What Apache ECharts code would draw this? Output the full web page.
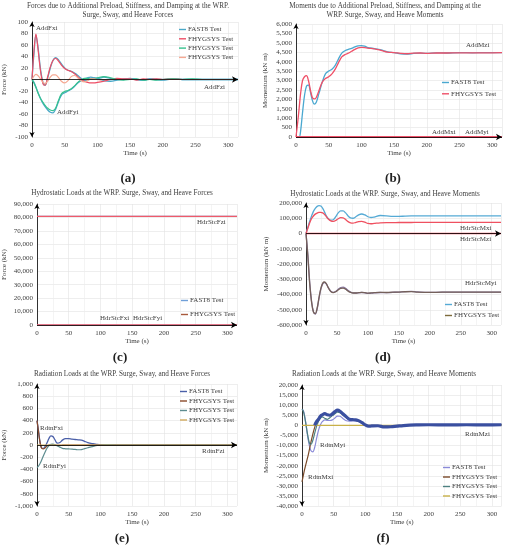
<!DOCTYPE html>
<html><head><meta charset="utf-8">
<script src="https://cdn.jsdelivr.net/npm/echarts@6/dist/echarts.min.js"></script>
<style>html,body{margin:0;padding:0;background:#fff}#c{width:509px;height:550px}</style>
</head><body><div id="c"></div>
<script>
// ---------- data ----------
// (a) Additional forces
const tA = [0,3,6,9,13,17,20,24,28,32,36,40,45,50,55,60,65,70,75,80,85,90,95,100,105,110,120,130,140,150,160,170,180,190,200,215,230,245,260,280,300,315];
const addFxiFast = [0,45,77,58,18,-6,-10,3,20,33,38,35,27,20,16,14,11,7,2,-2,-1,1,3,2,0,-2,-3,-1,1,2,0,-1,1,0,-1,1,0,0,0,0,0,0];
const addFxiFhy  = [0,50,79,55,15,-8,-10,5,22,33,37,33,25,19,16,14,10,5,0,-3,-5,-6,-6,-5,-4,-3,0,2,1,1,-1,1,0,1,0,1,0,0,0,0,0,0];
const addFyiFast = [0,-5,-13,-22,-33,-42,-47,-53,-57,-58,-52,-40,-27,-23,-20,-17,-12,-6,-2,1,3,4,3,2,3,4,2,0,0,1,0,-1,1,0,0,1,0,0,0,0,0,0];
const addFyiFhy  = [0,-6,-14,-23,-33,-40,-45,-50,-53,-54,-50,-38,-25,-21,-19,-16,-11,-5,-1,2,2,1,1,3,4,5,3,0,-1,0,1,-1,0,-1,0,1,0,1,0,0,0,0];
const addFziFhy  = [0,6,9,7,1,-5,-7,-3,4,8,8,4,-3,-6,-2,5,7,3,-2,-4,-2,1,1,0,-1,0,0,0,0,0,0,0,0,0,0,0,0,0,0,0,0,0];
// (b) Additional moments
const tB = [0,3,5,7,10,13,16,19,22,25,28,31,35,40,45,50,55,60,65,70,75,80,85,90,95,100,105,110,120,130,140,150,160,170,180,190,200,215,230,250,270,290,315];
const addMziFhy  = [0,900,1600,2300,3000,3200,3260,3000,2500,2100,2020,2100,2450,2900,3100,3200,3350,3600,3950,4250,4380,4450,4550,4650,4730,4760,4750,4720,4680,4600,4510,4480,4440,4420,4450,4460,4440,4460,4460,4470,4470,4470,4480];
const addMziFast = [0,0,0,300,1300,2200,2700,2750,2400,1950,1750,1850,2300,2900,3350,3500,3600,3800,4150,4450,4580,4650,4700,4780,4840,4850,4820,4750,4690,4620,4520,4480,4420,4400,4440,4450,4440,4470,4460,4480,4470,4480,4480];
// flat signals (start / end)
const tFlat = [0,315];
const zeroFlat = [0,0];
const hdrFziFlat = [80800,80800];
// (d) Hydrostatic moments
const tD = [0,3,6,9,12,15,18,21,24,27,30,33,36,40,44,48,52,56,60,64,68,72,76,80,85,90,95,100,105,110,120,130,140,150,160,170,180,200,220,240,260,280,300,315];
const hdrMyiFhy  = [0,-150000,-330000,-450000,-515000,-525000,-490000,-420000,-360000,-325000,-318000,-330000,-355000,-380000,-388000,-382000,-370000,-360000,-358000,-365000,-378000,-386000,-390000,-390000,-388000,-386000,-388000,-391000,-390000,-388000,-386000,-387000,-385000,-384000,-382000,-381000,-384000,-386000,-385000,-385000,-384000,-385000,-385000,-385000];
const hdrMyiFast = [0,-140000,-320000,-445000,-512000,-528000,-495000,-425000,-365000,-330000,-322000,-332000,-355000,-378000,-386000,-380000,-366000,-354000,-352000,-360000,-374000,-384000,-389000,-390000,-389000,-387000,-389000,-392000,-391000,-389000,-387000,-388000,-386000,-384000,-381000,-380000,-383000,-386000,-385000,-385000,-384000,-385000,-385000,-385000];
const hdrMxiFast = [0,40000,80000,115000,145000,165000,178000,183000,180000,165000,140000,115000,98000,88000,90000,110000,135000,148000,148000,135000,115000,102000,100000,108000,122000,128000,122000,110000,105000,108000,118000,116000,112000,112000,114000,115000,115000,115000,115000,115000,115000,115000,115000,115000];
const hdrMxiFhy  = [0,35000,70000,98000,115000,127000,134000,138000,139000,135000,125000,110000,95000,83000,80000,85000,97000,104000,103000,92000,78000,70000,68000,72000,78000,80000,74000,66000,64000,66000,70000,71000,71000,72000,72000,72000,73000,73000,73000,73000,73000,73000,73000,73000];
// (e) Radiation forces
const tE = [0,2,4,6,8,10,13,16,19,22,25,28,32,36,40,45,50,55,60,65,70,75,80,85,90,95,100,110,120,130,140,150,170,200,250,315];
const rdtnFxiFast = [400,260,100,-10,-55,-55,-20,40,110,150,140,90,30,40,80,105,105,95,90,85,80,60,40,25,18,10,5,3,5,2,3,0,0,0,0,0];
const rdtnFxiFhy  = [400,250,90,-20,-60,-65,-45,-15,0,5,5,0,-5,-5,-3,0,0,0,0,0,0,0,0,0,0,0,0,0,0,0,0,0,0,0,0,0];
const rdtnFyiFhy  = [-370,-350,-320,-280,-230,-180,-110,-50,-10,10,15,5,-15,-35,-55,-62,-65,-68,-72,-78,-75,-60,-45,-30,-18,-8,0,5,3,-3,0,0,0,0,0,0];
// (f) Radiation moments
const tF = [0,2,4,6,8,10,12,14,17,20,23,26,29,32,36,40,44,48,52,56,60,65,70,75,80,85,90,95,100,105,110,120,130,140,150,160,170,180,200,230,260,290,315];
const rdtnMyiFast = [8000,7500,5000,1000,-3500,-7500,-10500,-12500,-13200,-11000,-6500,-2500,200,1800,2700,2500,2400,2700,3600,4600,4500,3300,2300,2100,2300,2200,1800,1200,300,-300,-200,-300,-700,-600,-300,-100,0,200,200,100,200,100,200];
const rdtnMxiFast = [null,null,null,null,null,null,null,null,null,0,1800,3000,4500,5200,5800,5200,5000,5700,6800,7500,7000,5600,4200,3000,2800,2700,2200,1300,200,-400,-300,-200,-800,-700,-400,-100,100,200,300,200,300,200,300];
const rdtnMxiFhy  = [-28000,-25000,-22000,-19500,-17000,-14500,-11500,-8500,-4500,-1000,1500,2800,4300,5000,5600,5000,4800,5500,6600,7300,6800,5400,4000,2900,2700,2600,2100,1200,100,-400,-300,-200,-800,-700,-400,-100,100,200,300,200,300,200,300];
const rdtnMyiFhy  = [8000,7000,4500,1000,-3000,-6500,-9000,-9500,-7500,-4000,-500,2000,3500,4200,3500,3000,3800,4800,5800,6500,6200,5000,3800,2800,2600,2500,2000,1100,0,-500,-300,-300,-900,-700,-400,-100,100,200,300,200,300,200,300];
// axis ranges / labels
const xTicks = {min:0, max:315, interval:50};
const yRanges = [
  {min:-100, max:100, interval:20, name:'Force (kN)'},
  {min:0, max:6000, interval:500, name:'Momentum (kN m)'},
  {min:0, max:90000, interval:10000, name:'Force (kN)'},
  {min:-600000, max:200000, interval:100000, name:'Momentum (kN m)'},
  {min:-1000, max:1000, interval:200, name:'Force (kN)'},
  {min:-40000, max:20000, interval:5000, name:'Momentum (kN m)'}
];

// ---------- layout / style ----------
const SERIF = '"Liberation Serif","DejaVu Serif",serif';
const TXT = '#404040';
const zw = k => '\u200B'.repeat(k);
const N = (base,k) => base + zw(k);
const grids = [
  {left:30, top:22, width:208, height:115},
  {left:296, top:24, width:206, height:113},
  {left:35, top:204, width:202, height:121},
  {left:306, top:203, width:195, height:122},
  {left:35, top:384, width:202, height:122},
  {left:302, top:385, width:199.5, height:121}
];
const yNameGap = [24, 27, 29, 36, 29, 32];
const xNameGap = [13, 13, 13, 12, 12, 13];
const yArrows = [['arrow','arrow'],['none','arrow'],['none','arrow'],['arrow','arrow'],['arrow','arrow'],['arrow','arrow']];

const xAxes = grids.map((g,i)=>({
  type:'value', gridIndex:i, min:xTicks.min, max:xTicks.max, interval:xTicks.interval,
  axisLine:{show:false}, axisTick:{show:false},
  axisLabel:{fontSize:7, color:TXT, fontFamily:SERIF, showMaxLabel:false, margin:5},
  splitLine:{show:true, lineStyle:{color:'#e3e3e3', width:0.6}},
  minorTick:{show:false, splitNumber:2},
  minorSplitLine:{show:true, lineStyle:{color:'#ececec', width:0.6}},
  name:'Time (s)', nameLocation:'middle', nameGap:xNameGap[i],
  nameTextStyle:{fontSize:7, color:TXT, fontFamily:SERIF}
}));
const yAxes = yRanges.map((r,i)=>({
  type:'value', gridIndex:i, min:r.min, max:r.max, interval:r.interval,
  axisLine:{show:true, onZero:false, symbol:yArrows[i], symbolSize:[4,5], lineStyle:{color:'#000', width:0.8}},
  axisTick:{show:false},
  axisLabel:{fontSize:7, color:TXT, fontFamily:SERIF, margin:4, formatter:v=>v.toLocaleString('en-US')},
  splitLine:{show:true, lineStyle:{color:'#e3e3e3', width:0.6}},
  name:r.name, nameLocation:'middle', nameGap:yNameGap[i],
  nameTextStyle:{fontSize:7, color:TXT, fontFamily:SERIF}
}));

const zeroLine = {silent:true, symbol:['none','arrow'], symbolSize:[5,6], label:{show:false},
  lineStyle:{color:'#000', width:0.8, type:'solid'}, data:[{yAxis:0}], animation:false, emphasis:{disabled:true}};

function line(gi, name, t, v, color, width, extra){
  return Object.assign({
    type:'line', name, xAxisIndex:gi, yAxisIndex:gi,
    data:t.map((x,i)=> (v[i]===null ? [x,'-'] : [x, v[i]])),
    showSymbol:false, symbol:'none', smooth:0.35,
    lineStyle:{color, width}, itemStyle:{color},
    emphasis:{disabled:true}, animation:false
  }, extra||{});
}

const C = {
  aFast:'#4aa8c8', aRed:'#ee4e66', aGreen:'#36c28e', aSalmon:'#f6a892',
  bFast:'#4aa8d0', bRed:'#ef5068',
  cFast:'#6f9fd8', cRed:'#ef5a6a', cLegRed:'#a85a3c',
  dFast:'#55aad5', dRed:'#ef5060', dMyiFhy:'#74605a', dMyiFast:'#8a7aa8', dLeg:'#7d6a3b',
  eFast:'#4a5fa8', eBrown:'#8a4a2a', eTeal:'#5d8c8f', eTan:'#d2aa5c',
  fFast:'#8a8ad8', fBrown:'#7a4a2a', fTeal:'#4d8080', fYellow:'#c8b048', fThick:'#3a4fa0'
};

const series = [
  // (a)
  line(0, N('FAST8 Test',1), tA, addFxiFast, C.aFast, 1.3, {markLine:zeroLine}),
  line(0, N('FAST8 Test',1), tA, addFyiFast, C.aFast, 1.3),
  line(0, N('FHYGSYS Test',2), tA, addFxiFhy, C.aRed, 1.2),
  line(0, N('FHYGSYS Test',3), tA, addFyiFhy, C.aGreen, 1.2),
  line(0, N('FHYGSYS Test',4), tA, addFziFhy, C.aSalmon, 1.2),
  // (b)
  line(1, N('FAST8 Test',5), tB, addMziFast, C.bFast, 1.3, {markLine:zeroLine}),
  line(1, N('FHYGSYS Test',6), tB, addMziFhy, C.bRed, 1.3),
  line(1, N('FHYGSYS Test',6), tFlat, zeroFlat, C.bRed, 2),
  // (c)
  line(2, N('FAST8 Test',7), tFlat, hdrFziFlat, C.cFast, 1.2, {markLine:zeroLine}),
  line(2, N('FAST8 Test',7), tFlat, zeroFlat, C.cFast, 1.2),
  line(2, N('FHYGSYS Test',8), tFlat, hdrFziFlat, C.cRed, 1.4),
  line(2, N('FHYGSYS Test',8), tFlat, zeroFlat, C.cRed, 1.6),
  // (d)
  line(3, N('FAST8 Test',9), tD, hdrMxiFast, C.dFast, 1.3, {markLine:zeroLine}),
  line(3, N('FAST8 Test',9), tD, hdrMyiFast, C.dMyiFast, 1.3),
  line(3, N('FHYGSYS Test',10), tD, hdrMxiFhy, C.dRed, 1.3),
  line(3, N('FHYGSYS Test',10), tD, hdrMyiFhy, C.dMyiFhy, 1.3),
  line(3, N('FHYGSYS Test',10), tFlat, zeroFlat, C.dRed, 1.3),
  // (e)
  line(4, N('FAST8 Test',11), tE, rdtnFxiFast, C.eFast, 1.3, {markLine:zeroLine}),
  line(4, N('FHYGSYS Test',12), tE, rdtnFxiFhy, C.eBrown, 1.2),
  line(4, N('FHYGSYS Test',13), tE, rdtnFyiFhy, C.eTeal, 1.2),
  line(4, N('FHYGSYS Test',14), tFlat, zeroFlat, C.eTan, 1.2),
  // (f)
  line(5, N('FAST8 Test',15), tF, rdtnMyiFast, C.fFast, 1.2),
  line(5, N('FHYGSYS Test',16), tF, rdtnMxiFhy, C.fBrown, 1.2),
  line(5, N('FHYGSYS Test',17), tF, rdtnMyiFhy, C.fTeal, 1.2),
  line(5, N('FHYGSYS Test',18), tFlat, zeroFlat, C.fYellow, 1.4),
  line(5, N('FAST8 Test',15), tF, rdtnMxiFast, C.fThick, 3.2)
];

function legend(left, top, gap, fs, items){
  return {orient:'vertical', left, top, itemWidth:7, itemHeight:1.4, icon:'rect', itemGap:gap, padding:0,
    selectedMode:false, textStyle:{fontSize:fs, fontFamily:SERIF, color:TXT, padding:[0,0,0,-3]},
    formatter:n=>n.replace(/\u200B/g,''),
    data:items.map(([n,c])=>({name:n, itemStyle:{color:c}}))};
}
const legends = [
  legend(179, 26, 2.3, 7, [[N('FAST8 Test',1),C.aFast],[N('FHYGSYS Test',2),C.aRed],[N('FHYGSYS Test',3),C.aGreen],[N('FHYGSYS Test',4),C.aSalmon]]),
  legend(442, 79, 4.3, 7, [[N('FAST8 Test',5),C.bFast],[N('FHYGSYS Test',6),C.bRed]]),
  legend(181, 297, 7, 7, [[N('FAST8 Test',7),C.cFast],[N('FHYGSYS Test',8),C.cLegRed]]),
  legend(445, 301, 4, 7, [[N('FAST8 Test',9),C.dFast],[N('FHYGSYS Test',10),C.dLeg]]),
  legend(180, 388, 2.5, 7, [[N('FAST8 Test',11),C.eFast],[N('FHYGSYS Test',12),C.eBrown],[N('FHYGSYS Test',13),C.eTeal],[N('FHYGSYS Test',14),C.eTan]]),
  legend(443, 464, 2.5, 7, [[N('FAST8 Test',15),C.fFast],[N('FHYGSYS Test',16),C.fBrown],[N('FHYGSYS Test',17),C.fTeal],[N('FHYGSYS Test',18),C.fYellow]])
];

const texts = [
  // titles
  ['Forces due to Additional Preload, Stiffness, and Damping at the WRP.',128,6,'center',7.2,''],
  ['Surge, Sway, and Heave Forces',128,15,'center',7.2,''],
  ['Moments due to Additional Preload, Stiffness, and Damping at the',385,6,'center',7.2,''],
  ['WRP. Surge, Sway, and Heave Moments',385,15,'center',7.2,''],
  ['Hydrostatic Loads at the WRP. Surge, Sway, and Heave Forces',122,193,'center',7.2,''],
  ['Hydrostatic Loads at the WRP. Surge, Sway, and Heave Moments',385,194,'center',7.2,''],
  ['Radiation Loads at the WRP. Surge, Sway, and Heave Forces',122,374,'center',7.2,''],
  ['Radiation Loads at the WRP. Surge, Sway, and Heave Moments',384,374,'center',7.2,''],
  // series annotations
  ['AddFxi',36,28,'left',7,''], ['AddFyi',57,112,'left',7,''], ['AddFzi',204,87,'left',7,''],
  ['AddMzi',466,45,'left',7,''], ['AddMxi',432,132,'left',7,''], ['AddMyi',465,132,'left',7,''],
  ['HdrStcFzi',197,222,'left',7,''], ['HdrStcFxi',100,318,'left',7,''], ['HdrStcFyi',133,318,'left',7,''],
  ['HdrStcMxi',460,228,'left',7,''], ['HdrStcMzi',460,239,'left',7,''], ['HdrStcMyi',465,283,'left',7,''],
  ['RdtnFxi',40,428,'left',7,''], ['RdtnFyi',43,466,'left',7,''], ['RdtnFzi',202,451,'left',7,''],
  ['RdtnMyi',320,445,'left',7,''], ['RdtnMxi',308,477,'left',7,''], ['RdtnMzi',465,434,'left',7,''],
  // panel labels
  ['(a)',128,179,'center',13,'bold '], ['(b)',393,179,'center',13,'bold '],
  ['(c)',120,358,'center',13,'bold '], ['(d)',383,358,'center',13,'bold '],
  ['(e)',122,539,'center',13,'bold '], ['(f)',383,539,'center',13,'bold ']
];
const graphic = texts.map(([t,x,y,al,fs,w])=>({
  type:'text', x, y, silent:true, z:100,
  style:{text:t, font:w+fs+'px '+SERIF, fill: w? '#222':TXT, align:al, textAlign:al, verticalAlign:'middle', textVerticalAlign:'middle'}
}));

const chart = echarts.init(document.getElementById('c'), null, {renderer:'canvas'});
chart.setOption({
  backgroundColor:'#fff', animation:false,
  grid:grids, xAxis:xAxes, yAxis:yAxes, legend:legends, series, graphic
});
</script></body></html>
